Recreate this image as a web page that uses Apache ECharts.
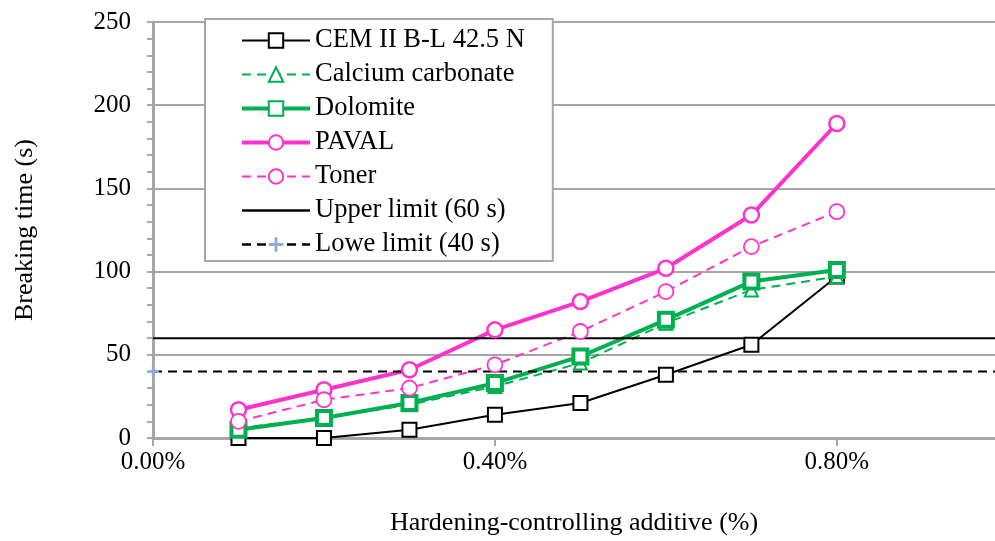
<!DOCTYPE html>
<html>
<head>
<meta charset="utf-8">
<script src="https://cdn.jsdelivr.net/npm/echarts@6/dist/echarts.min.js"></script>
<style>
html,body{margin:0;padding:0;background:#fff;}
#chart{width:995px;height:541px;}
</style>
</head>
<body>
<div id="chart"></div>
<script>
// Data
const additive = [0.1, 0.2, 0.3, 0.4, 0.5, 0.6, 0.7, 0.8];
const cem = [0, 0, 5, 14, 21, 38, 56, 97];
const calciumCarbonate = [6, 12, 20, 31, 45, 69, 89, 97];
const dolomite = [5, 12, 21, 33, 49, 71, 94, 101];
const paval = [17, 29, 41, 65, 82, 102, 134, 189];
const toner = [10, 23, 30, 44, 64, 88, 115, 136];
const limitX = [0, 1];
const upperLimit = [60, 60];
const lowerLimit = [40, 40];
const seriesNames = ['CEM II B-L 42.5 N', 'Calcium carbonate', 'Dolomite', 'PAVAL', 'Toner', 'Upper limit (60 s)', 'Lowe limit (40 s)'];
const xAxisName = 'Hardening-controlling additive (%)';
const yAxisName = 'Breaking time (s)';

const pair = (xs, ys) => xs.map((x, i) => [x, ys[i]]);
const GREEN = '#00b050', PINK = '#ff33cc', GRAY = '#a6a6a6';
const FONT = 'Liberation Serif';
const plus = 'path://M4,0H6V4H10V6H6V10H4V6H0V4H4Z';

const chart = echarts.init(document.getElementById('chart'), null, {renderer: 'canvas'});
chart.setOption({
  animation: false,
  backgroundColor: '#fff',
  textStyle: {fontFamily: FONT, color: '#000'},
  grid: {left: 153, top: 22, right: 0, bottom: 103, containLabel: false},
  legend: {
    orient: 'vertical', left: 205, top: 19,
    padding: [8, 28, 3, 35],
    itemWidth: 68, itemHeight: 18, itemGap: 7,
    backgroundColor: '#fff', borderColor: GRAY, borderWidth: 2,
    textStyle: {fontFamily: FONT, fontSize: 26.5, color: '#000'},
    data: [
      {name: seriesNames[0], lineStyle: {width: 2}},
      {name: seriesNames[1], lineStyle: {width: 2}},
      {name: seriesNames[2], lineStyle: {width: 4}},
      {name: seriesNames[3], lineStyle: {width: 4}},
      {name: seriesNames[4], lineStyle: {width: 2}},
      {name: seriesNames[5], lineStyle: {width: 2.5}, itemStyle: {opacity: 0}},
      {name: seriesNames[6], lineStyle: {width: 2.5}}
    ]
  },
  xAxis: {
    type: 'value', min: 0, max: 0.985, interval: 0.4,
    name: xAxisName, nameLocation: 'middle', nameGap: 72,
    nameTextStyle: {fontFamily: FONT, fontSize: 26, color: '#000'},
    axisLine: {lineStyle: {color: GRAY, width: 3}},
    axisTick: {show: true, length: 8, lineStyle: {color: GRAY, width: 2}},
    axisLabel: {margin: 12, fontFamily: FONT, fontSize: 25, color: '#000', showMaxLabel: false,
      formatter: v => v.toFixed(2) + '%'},
    splitLine: {show: false}
  },
  yAxis: {
    type: 'value', min: 0, max: 250, interval: 50,
    name: yAxisName, nameLocation: 'middle', nameGap: 115, nameRotate: 90,
    nameTextStyle: {fontFamily: FONT, fontSize: 26, color: '#000'},
    axisLine: {show: true, lineStyle: {color: GRAY, width: 3}},
    axisTick: {show: true, length: 6, lineStyle: {color: GRAY, width: 2}},
    minorTick: {show: true, splitNumber: 5, length: 6, lineStyle: {color: GRAY, width: 2}},
    axisLabel: {margin: 22, fontFamily: FONT, fontSize: 25, color: '#000'},
    splitLine: {show: true, lineStyle: {color: GRAY, width: 2}}
  },
  series: [
    {name: seriesNames[0], type: 'line', data: pair(additive, cem),
     symbol: 'rect', symbolSize: 14,
     lineStyle: {color: '#000', width: 2}, itemStyle: {color: '#fff', borderColor: '#000', borderWidth: 2}},
    {name: seriesNames[1], type: 'line', data: pair(additive, calciumCarbonate),
     symbol: 'triangle', symbolSize: 13,
     lineStyle: {color: GREEN, width: 2, type: [9, 6]}, itemStyle: {color: '#fff', borderColor: GREEN, borderWidth: 2}},
    {name: seriesNames[2], type: 'line', data: pair(additive, dolomite),
     symbol: 'rect', symbolSize: 14,
     lineStyle: {color: GREEN, width: 4}, itemStyle: {color: '#fff', borderColor: GREEN, borderWidth: 4}},
    {name: seriesNames[3], type: 'line', data: pair(additive, paval),
     symbol: 'circle', symbolSize: 15,
     lineStyle: {color: PINK, width: 4}, itemStyle: {color: '#fff', borderColor: PINK, borderWidth: 2.5}},
    {name: seriesNames[4], type: 'line', data: pair(additive, toner),
     symbol: 'circle', symbolSize: 15,
     lineStyle: {color: PINK, width: 2, type: [9, 6]}, itemStyle: {color: '#fff', borderColor: PINK, borderWidth: 1.8}},
    {name: seriesNames[5], type: 'line', data: pair(limitX, upperLimit),
     symbol: 'none', lineStyle: {color: '#000', width: 2}, itemStyle: {color: '#000'}},
    {name: seriesNames[6], type: 'line',
     data: pair(limitX, lowerLimit).map((p, i) => i === 0 ? {value: p} : {value: p, symbol: 'none'}),
     symbol: plus, symbolSize: 12, showSymbol: true,
     lineStyle: {color: '#000', width: 2, type: [9, 6]}, itemStyle: {color: '#8eaadb'}}
  ]
});
</script>
</body>
</html>
